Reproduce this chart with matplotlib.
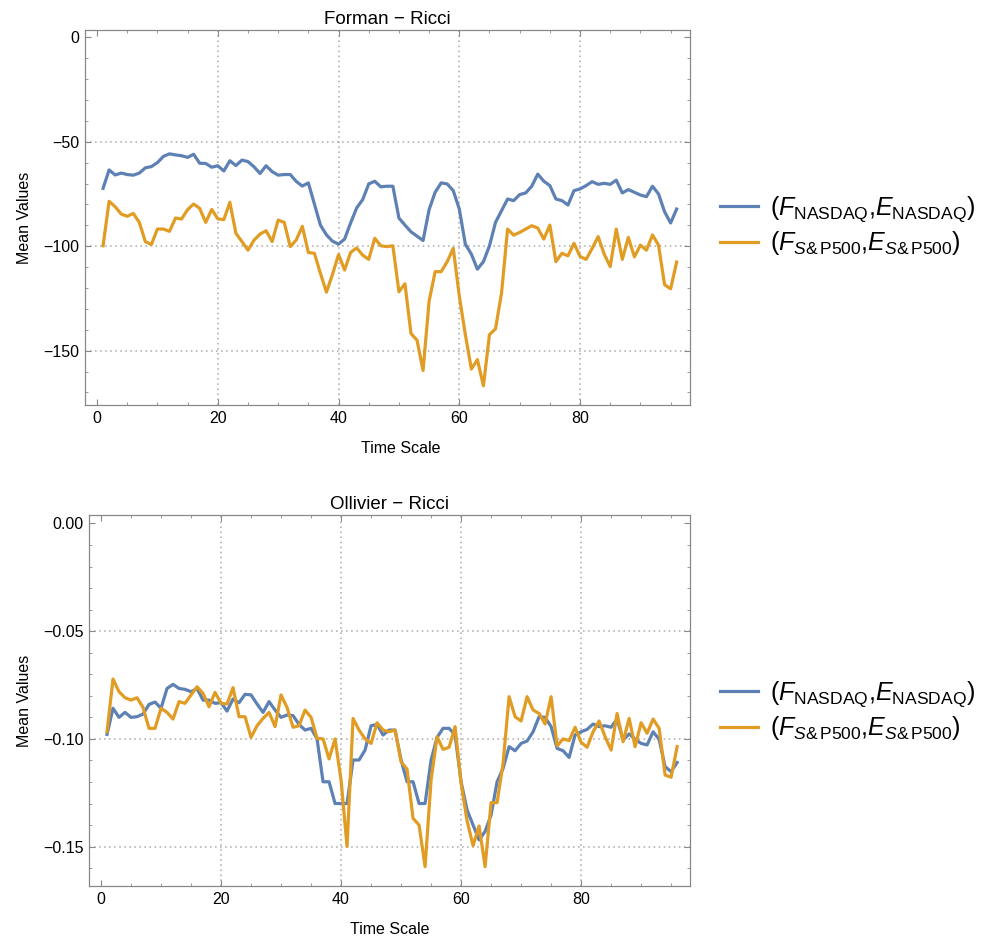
import matplotlib
matplotlib.use("Agg")
import matplotlib.pyplot as plt
from matplotlib.ticker import MultipleLocator, FuncFormatter
from matplotlib.mathtext import MathTextParser
from matplotlib.font_manager import FontProperties

plt.rcParams['font.family'] = ['Liberation Sans', 'DejaVu Sans']
plt.rcParams['mathtext.fontset'] = 'custom'
plt.rcParams['mathtext.rm'] = 'Liberation Sans'
plt.rcParams['mathtext.it'] = 'Liberation Sans:italic'
plt.rcParams['mathtext.bf'] = 'Liberation Sans:bold'

time_scale = list(range(1, 97))

forman_nasdaq = [-72.3, -63.5, -65.9, -65.0, -65.7, -66.0, -65.0, -62.5, -61.9, -60.0,
                 -57.0, -55.8, -56.3, -56.7, -57.5, -56.0, -60.3, -60.4, -62.2, -61.5,
                 -64.0, -59.1, -61.4, -58.8, -59.5, -62.0, -65.2, -61.5, -64.3, -66.0,
                 -65.7, -65.7, -69.0, -71.2, -69.7, -79.8, -89.9, -94.6, -97.6, -99.0,
                 -96.6, -88.9, -81.7, -77.7, -70.2, -68.9, -71.6, -71.3, -71.3, -86.5,
                 -89.9, -93.1, -95.2, -97.3, -82.5, -74.2, -69.7, -70.2, -73.4, -82.2,
                 -99.0, -103.8, -111.0, -107.4, -99.8, -88.6, -83.0, -77.4, -78.2, -75.3,
                 -74.5, -71.3, -65.5, -68.9, -71.0, -77.4, -78.2, -80.3, -73.4, -72.6,
                 -71.0, -69.1, -70.4, -69.9, -70.4, -68.4, -74.5, -72.9, -74.2, -75.5,
                 -76.3, -71.3, -75.0, -83.5, -88.9, -82.2]

forman_sp500 = [-99.8, -78.5, -81.1, -84.6, -85.7, -84.3, -88.6, -97.8, -99.2, -91.8,
                -91.8, -92.9, -86.5, -87.0, -82.5, -79.8, -81.9, -88.6, -82.4, -86.9,
                -87.3, -79.0, -93.8, -97.8, -101.9, -97.1, -94.2, -92.6, -97.8, -87.5,
                -88.6, -100.2, -97.0, -90.5, -103.0, -103.4, -113.0, -122.0, -113.5, -104.0,
                -111.4, -103.0, -100.8, -104.3, -106.3, -96.2, -99.8, -100.2, -99.8, -121.8,
                -118.0, -141.8, -145.0, -159.5, -126.3, -112.2, -112.2, -107.4, -101.0, -123.9,
                -142.3, -158.8, -154.3, -166.8, -142.3, -139.6, -122.3, -91.8, -94.7, -93.4,
                -91.8, -90.2, -91.3, -96.6, -89.9, -107.4, -103.4, -104.6, -98.6, -104.9,
                -106.3, -101.1, -95.4, -103.8, -109.8, -91.8, -106.3, -95.8, -105.1, -99.5,
                -101.9, -94.6, -99.5, -118.4, -120.4, -107.6]

ollivier_nasdaq = [-0.0979, -0.0858, -0.0900, -0.0877, -0.0900, -0.0897, -0.0885, -0.0840, -0.0829, -0.0858,
                   -0.0766, -0.0747, -0.0766, -0.0770, -0.0781, -0.0766, -0.0820, -0.0820, -0.0835, -0.0832,
                   -0.0871, -0.0815, -0.0832, -0.0793, -0.0796, -0.0838, -0.0877, -0.0827, -0.0866, -0.0900,
                   -0.0889, -0.0892, -0.0933, -0.0959, -0.0951, -0.1000, -0.1199, -0.1199, -0.1300, -0.1300,
                   -0.1300, -0.1098, -0.1098, -0.1052, -0.0939, -0.0933, -0.0982, -0.0959, -0.0959, -0.1098,
                   -0.1199, -0.1199, -0.1300, -0.1300, -0.1098, -0.0993, -0.0951, -0.0951, -0.0982, -0.1199,
                   -0.1330, -0.1400, -0.1469, -0.1430, -0.1353, -0.1199, -0.1137, -0.1036, -0.1055, -0.1021,
                   -0.1010, -0.0967, -0.0897, -0.0900, -0.0943, -0.1044, -0.1055, -0.1086, -0.0982, -0.0967,
                   -0.0956, -0.0931, -0.0943, -0.0939, -0.0946, -0.0908, -0.1005, -0.0977, -0.1002, -0.1021,
                   -0.1028, -0.0967, -0.1002, -0.1129, -0.1152, -0.1110]

ollivier_sp500 = [-0.0967, -0.0722, -0.0781, -0.0809, -0.0820, -0.0809, -0.0854, -0.0951, -0.0951, -0.0858,
                  -0.0877, -0.0908, -0.0827, -0.0835, -0.0796, -0.0758, -0.0789, -0.0851, -0.0784, -0.0835,
                  -0.0838, -0.0762, -0.0897, -0.0897, -0.0993, -0.0939, -0.0905, -0.0877, -0.0943, -0.0796,
                  -0.0854, -0.0946, -0.0939, -0.0866, -0.0900, -0.0998, -0.1000, -0.1093, -0.1000, -0.1191,
                  -0.1500, -0.0905, -0.0959, -0.1000, -0.1021, -0.0925, -0.0959, -0.0967, -0.0959, -0.1106,
                  -0.1141, -0.1369, -0.1400, -0.1593, -0.1191, -0.0990, -0.1049, -0.1039, -0.0943, -0.1206,
                  -0.1380, -0.1496, -0.1404, -0.1593, -0.1296, -0.1296, -0.1113, -0.0804, -0.0897, -0.0917,
                  -0.0804, -0.0866, -0.0882, -0.0931, -0.0804, -0.1032, -0.1000, -0.1008, -0.0946, -0.1016,
                  -0.1039, -0.0967, -0.0917, -0.0990, -0.1052, -0.0882, -0.1013, -0.0905, -0.1036, -0.0925,
                  -0.0974, -0.0908, -0.0951, -0.1168, -0.1178, -0.1036]

titles = ["Forman \u2212 Ricci", "Ollivier \u2212 Ricci"]

_parser = MathTextParser('path')


def _ok(s):
    try:
        _parser.parse(s, 72, FontProperties())
        return True
    except Exception:
        return False


comma = "{,}" if _ok(r"$(F{,}E)$") else ","
label_nasdaq = r"$(F_{\mathrm{NASDAQ}}" + comma + r"E_{\mathrm{NASDAQ}})$"
label_sp500 = None
for amp in [r"\&", "&", r"\mathrm{\&}", "\uff06"]:
    cand = (r"$(F_{S" + amp + r"\,\mathrm{P500}}" + comma +
            r"E_{S" + amp + r"\,\mathrm{P500}})$")
    if _ok(cand):
        label_sp500 = cand
        break
if label_sp500 is None:
    label_sp500 = r"$(F_{S\mathrm{P500}},E_{S\mathrm{P500}})$"

BLUE = "#5E81B5"
ORANGE = "#E19C24"
FRAME = "#888888"
GRID = "#a8a8a8"

fig = plt.figure(figsize=(9.89, 9.39), dpi=100)
ax1 = fig.add_axes([0.0859, 0.5687, 0.6117, 0.3994])
ax2 = fig.add_axes([0.0900, 0.0564, 0.6080, 0.3951])


def style(ax, ylim, ymajor, yminor, ygrid, yfmt, xlab_x):
    ax.set_xlim(-2.0, 98.2)
    ax.set_ylim(*ylim)
    ax.xaxis.set_major_locator(MultipleLocator(20))
    ax.xaxis.set_minor_locator(MultipleLocator(5))
    ax.yaxis.set_major_locator(MultipleLocator(ymajor))
    ax.yaxis.set_minor_locator(MultipleLocator(yminor))
    ax.yaxis.set_major_formatter(yfmt)
    for v in [20, 40, 60, 80]:
        ax.axvline(v, color=GRID, lw=1.1, ls=(0, (1, 2.3)), zorder=0)
    for v in ygrid:
        ax.axhline(v, color=GRID, lw=1.1, ls=(0, (1, 2.3)), zorder=0)
    for s in ax.spines.values():
        s.set_color(FRAME)
        s.set_linewidth(0.9)
    ax.tick_params(which='both', direction='in', top=True, right=True,
                   color=FRAME, labelsize=11.5, labelcolor='black', pad=4)
    ax.tick_params(which='major', length=4.5, width=0.8)
    ax.tick_params(which='minor', length=2.5, width=0.6)
    ax.set_xlabel("Time Scale", fontsize=11.5)
    ax.xaxis.set_label_coords(xlab_x, -0.096)
    ax.set_ylabel("Mean Values", fontsize=11.5, labelpad=8)


LW = 2.3
ax1.plot(time_scale, forman_nasdaq, color=BLUE, lw=LW, label=label_nasdaq)
ax1.plot(time_scale, forman_sp500, color=ORANGE, lw=LW, label=label_sp500)
style(ax1, (-176, 3.5), 50, 10, [-50, -100, -150],
      FuncFormatter(lambda v, p: f"{v:.0f}".replace("-", "\u2212")), 0.522)
ax1.set_title(titles[0], fontsize=13.5, pad=4)

ax2.plot(time_scale, ollivier_nasdaq, color=BLUE, lw=LW, label=label_nasdaq)
ax2.plot(time_scale, ollivier_sp500, color=ORANGE, lw=LW, label=label_sp500)
style(ax2, (-0.1683, 0.0039), 0.05, 0.01, [-0.05, -0.10, -0.15],
      FuncFormatter(lambda v, p: f"{v:.2f}".replace("-", "\u2212")), 0.5)
ax2.set_title(titles[1], fontsize=13.5, pad=4)

FS = 18
for ax, yc in [(ax1, 1 - 226 / 939), (ax2, 1 - 711 / 939)]:
    ax.legend(loc='center left', bbox_to_anchor=(697 / 989, yc),
              bbox_transform=fig.transFigure, frameon=False, fontsize=FS,
              handlelength=1.52, handletextpad=0.5, labelspacing=0.2)

fig.savefig("out.png", dpi=100)
